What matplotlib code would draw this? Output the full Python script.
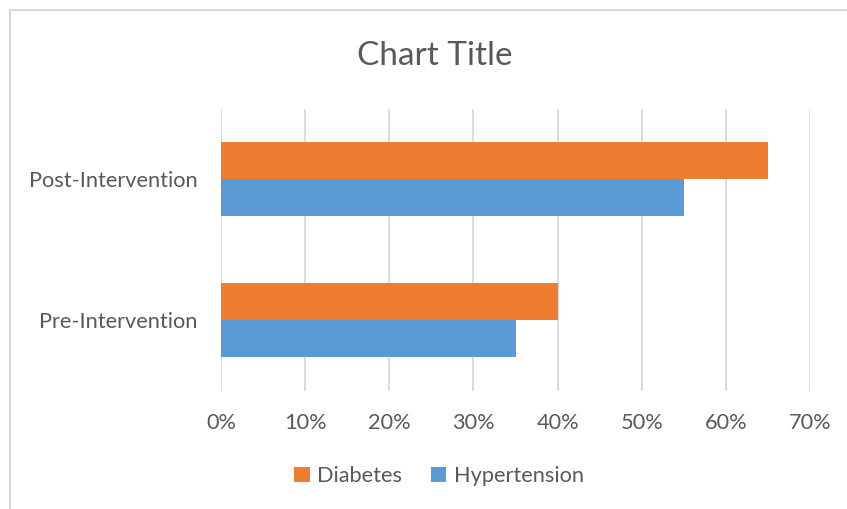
import matplotlib
matplotlib.use("Agg")
import matplotlib.pyplot as plt
from matplotlib.patches import Rectangle
from matplotlib.ticker import PercentFormatter
import numpy as np

categories = ["Pre-Intervention", "Post-Intervention"]
series_names = ["Diabetes", "Hypertension"]
diabetes = [0.40, 0.65]
hypertension = [0.35, 0.55]
x_ticks = [0.0, 0.1, 0.2, 0.3, 0.4, 0.5, 0.6, 0.7]

ORANGE = "#ED7D31"
BLUE = "#5B9BD5"
TEXT = "#595959"
GRID = "#D9D9D9"

plt.rcParams["font.family"] = ["Lato", "DejaVu Sans"]

W, H = 847, 509
fig = plt.figure(figsize=(W / 100, H / 100), dpi=100)
fig.patch.set_facecolor("white")

# chart-area border (extends beyond the right/bottom edges)
fig.add_artist(Rectangle((10 / W, -0.1), 1.2, (1 - 10 / H) + 0.1,
                         transform=fig.transFigure, fill=False,
                         edgecolor=GRID, linewidth=1.5))

left, right = 221 / W, 810 / W
top, bottom = 1 - 108.5 / H, 1 - 390.5 / H
ax = fig.add_axes([left, bottom, right - left, top - bottom])

y = np.arange(len(categories))
h = 0.26
ax.barh(y + h / 2, diabetes, height=h, color=ORANGE, label=series_names[0], zorder=3)
ax.barh(y - h / 2, hypertension, height=h, color=BLUE, label=series_names[1], zorder=3)

ax.set_xlim(0, 0.7)
ax.set_ylim(-0.5, 1.5)
ax.set_xticks(x_ticks)
ax.xaxis.set_major_formatter(PercentFormatter(1.0, decimals=0))
ax.set_yticks(y)
ax.set_yticklabels(categories)
ax.grid(axis="x", color=GRID, linewidth=1.3, zorder=0)
for s in ax.spines.values():
    s.set_visible(False)
ax.tick_params(axis="both", length=0, labelcolor=TEXT, labelsize=15.7)
ax.tick_params(axis="x", pad=16)
ax.tick_params(axis="y", pad=17)

fig.text(435 / W, 1 - 56 / H, "Chart Title", ha="center", va="center",
         fontsize=24, color=TEXT)

leg = fig.legend(loc="center", bbox_to_anchor=(439 / W, 1 - 476 / H),
                 ncol=2, frameon=False, fontsize=15.7, handlelength=0.7,
                 handleheight=0.7, handletextpad=0.35, columnspacing=1.3)
for t in leg.get_texts():
    t.set_color(TEXT)

fig.savefig("out.png", dpi=100, facecolor="white")
